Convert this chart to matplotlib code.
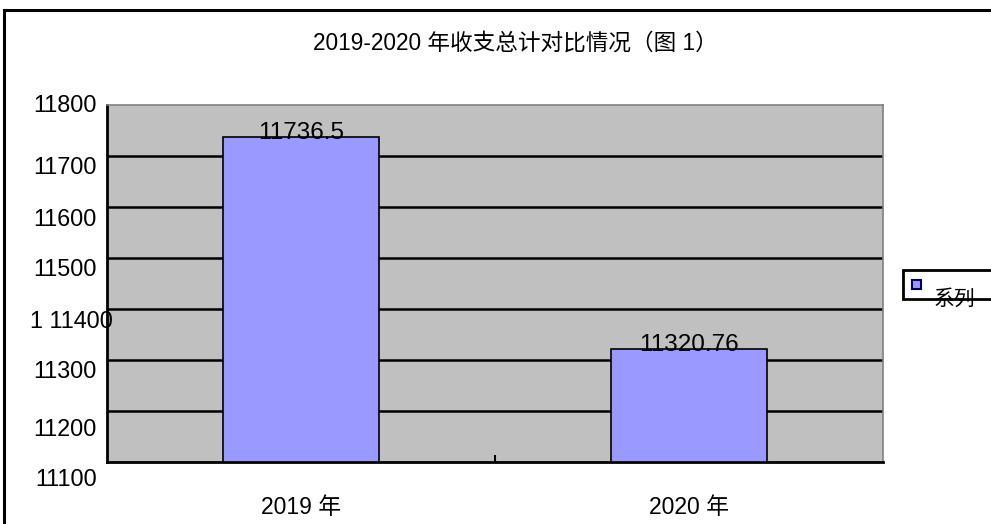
import matplotlib
matplotlib.use("Agg")
import matplotlib.pyplot as plt
from matplotlib.patches import Rectangle
from matplotlib.lines import Line2D
import matplotlib.transforms as mtransforms

plt.rcParams['font.family'] = ['Liberation Sans', 'Noto Sans CJK SC', 'DejaVu Sans']

# ---- data ----
categories = ['2019 年', '2020 年']
values = [11736.5, 11320.76]
value_labels = ['11736.5', '11320.76']
y_ticks = [11100, 11200, 11300, 11400, 11500, 11600, 11700, 11800]
y_tick_labels = ['11100', '11200', '11300', '1 11400', '11500', '11600', '11700', '11800']
title = '2019-2020 年收支总计对比情况（图 1）'
legend_label = '系列'

# ---- style ----
W, H = 991, 524
DPI = 100
bar_color = '#9999FF'
plot_bg = '#C0C0C0'
# small vertical offsets (px, downward) of the y labels as rendered in the original
label_dy = [17, 19, 12, 13, 11, 13, 12, 0]
label_dx = [-10, -10, -10, 6, -10, -10, -10, -10]

fig = plt.figure(figsize=(W / DPI, H / DPI), dpi=DPI)
fig.patch.set_facecolor('white')


def fx(x):
    return x / W


def fy(y):
    return 1 - y / H


left, right, top, bottom = 107, 883, 105, 462
ax = fig.add_axes([fx(left), fy(bottom), (right - left) / W, (bottom - top) / H])
ax.set_facecolor(plot_bg)

x = list(range(len(categories)))
ax.bar(x, [v - y_ticks[0] for v in values], bottom=y_ticks[0], width=0.4,
       color=bar_color, edgecolor='black', linewidth=1.2, zorder=3)

ax.set_xlim(-0.5, len(categories) - 0.5)
ax.set_ylim(y_ticks[0], y_ticks[-1])

for t in y_ticks[1:-1]:
    ax.axhline(t, color='black', linewidth=1.8, zorder=2)

for s in ['top', 'right']:
    ax.spines[s].set_color('#808080')
    ax.spines[s].set_linewidth(1.2)
for s in ['left', 'bottom']:
    ax.spines[s].set_color('black')
    ax.spines[s].set_linewidth(2)

ax.set_yticks([])
ax.set_xticks([0.5])
ax.set_xticklabels([])
ax.tick_params(axis='x', direction='in', length=5, width=1.5, color='black')

fs = 16.8
# y labels
for v, lab, dy, dx in zip(y_ticks, y_tick_labels, label_dy, label_dx):
    tr = ax.get_yaxis_transform() + mtransforms.ScaledTranslation(dx / DPI, -dy / DPI, fig.dpi_scale_trans)
    ax.text(0, v, lab, transform=tr, ha='right', va='center', fontsize=fs, color='black', clip_on=False)

# x labels
for xi, lab in zip(x, categories):
    tr = ax.get_xaxis_transform() + mtransforms.ScaledTranslation(0, -46 / DPI, fig.dpi_scale_trans)
    ax.text(xi, 0, lab, transform=tr, ha='center', va='center', fontsize=16.5, color='black', clip_on=False)

# value labels
for xi, v, lab in zip(x, values, value_labels):
    tr = ax.transData + mtransforms.ScaledTranslation(0, -2 / DPI, fig.dpi_scale_trans)
    ax.text(xi, v, lab, transform=tr, ha='center', va='baseline', fontsize=17.5, color='black', zorder=5)

# title
fig.text(fx(515), fy(43), title, ha='center', va='center', fontsize=16.3, color='black')

# legend box (partly cut off at right edge)
fig.patches.append(Rectangle((fx(903), fy(299)), fx(120), (299 - 270) / H, transform=fig.transFigure,
                             facecolor='white', edgecolor='black', linewidth=2, zorder=5))
fig.patches.append(Rectangle((fx(912), fy(289)), fx(9), 9 / H, transform=fig.transFigure,
                             facecolor=bar_color, edgecolor='#000060', linewidth=1.5, zorder=6))
fig.text(fx(934), fy(305), legend_label, ha='left', va='baseline', fontsize=15, color='black', zorder=7)

# outer chart border
fig.lines.append(Line2D([fx(3.5), fx(3.5)], [fy(10), fy(530)], transform=fig.transFigure,
                        color='black', linewidth=2.2))
fig.lines.append(Line2D([fx(3.5), fx(995)], [fy(10), fy(10)], transform=fig.transFigure,
                        color='black', linewidth=2.2))

fig.savefig('out.png', dpi=DPI, facecolor='white')
